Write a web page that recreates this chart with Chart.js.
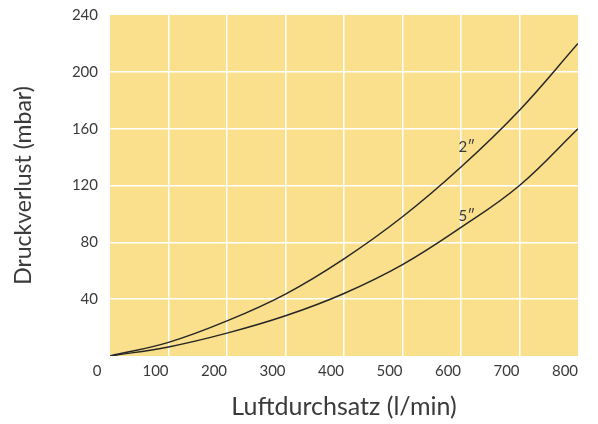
<!DOCTYPE html>
<html>
<head>
<meta charset="utf-8">
<script src="https://cdn.jsdelivr.net/npm/chart.js@4/dist/chart.umd.min.js"></script>
<style>
  html, body { margin: 0; padding: 0; background: #ffffff; }
  #wrap { width: 598px; height: 424px; }
</style>
</head>
<body>
<div id="wrap"><canvas id="chart" width="598" height="424"></canvas></div>
<script>
// Air flow (l/min) and pressure loss (mbar) for the two filter sizes
const flowRates = [0, 100, 200, 300, 400, 500, 600, 700, 800];
const loss2in = [0, 9.6, 24.7, 43.6, 68.4, 98, 133, 173, 220];
const loss5in = [0, 6.4, 16.1, 28.3, 44, 64.3, 90.5, 120, 160];
const seriesNames = ['2″', '5″'];
const xTitle = 'Luftdurchsatz (l/min)';
const yTitle = 'Druckverlust (mbar)';

const FONT = 'Lato, "Open Sans", sans-serif';
const TEXT = '#3a3a3a';
const PANEL = '#FAE08C';

const toPoints = (xs, ys) => xs.map((x, i) => ({ x: x, y: ys[i] }));

// Yellow panel behind the grid
const panelFill = {
  id: 'panelFill',
  beforeDraw(chart) {
    const { ctx, chartArea: a } = chart;
    ctx.save();
    ctx.fillStyle = PANEL;
    ctx.fillRect(a.left, a.top, a.right - a.left, a.bottom - a.top);
    ctx.restore();
  }
};

// Curve names written next to each line
const curveNames = {
  id: 'curveNames',
  afterDatasetsDraw(chart, args, opts) {
    const { ctx, scales: { x, y } } = chart;
    ctx.save();
    ctx.font = '15px ' + FONT;
    ctx.fillStyle = TEXT;
    ctx.textAlign = 'center';
    ctx.textBaseline = 'middle';
    (opts.at || []).forEach((p, i) => {
      const name = chart.data.datasets[i].label;
      ctx.fillText(name, x.getPixelForValue(p.x), y.getPixelForValue(p.y));
    });
    ctx.restore();
  }
};

const edgeClear = (ctx, last) =>
  (ctx.index === 0 || ctx.index === last) ? 'rgba(0,0,0,0)' : '#ffffff';

const curveStyle = {
  borderColor: '#262626',
  borderWidth: 1.5,
  pointRadius: 0,
  tension: 0.4,
  fill: false
};

new Chart(document.getElementById('chart'), {
  type: 'line',
  data: {
    datasets: [
      Object.assign({ label: seriesNames[0], data: toPoints(flowRates, loss2in) }, curveStyle),
      Object.assign({ label: seriesNames[1], data: toPoints(flowRates, loss5in) }, curveStyle)
    ]
  },
  options: {
    responsive: false,
    animation: false,
    layout: { padding: { top: 15, right: 20, left: 0, bottom: 0 } },
    plugins: {
      legend: { display: false },
      tooltip: { enabled: false },
      curveNames: { at: [{ x: 610, y: 147 }, { x: 610, y: 98.5 }] }
    },
    scales: {
      x: {
        type: 'linear',
        min: 0,
        max: 800,
        ticks: {
          stepSize: 100,
          padding: 6,
          labelOffset: -13,
          maxRotation: 0,
          autoSkip: false,
          color: TEXT,
          font: { family: FONT, size: 15 }
        },
        grid: {
          color: (c) => edgeClear(c, 8),
          lineWidth: 1.5,
          drawTicks: false
        },
        border: { display: false },
        title: {
          display: true,
          text: xTitle,
          color: TEXT,
          font: { family: FONT, size: 25 },
          padding: { top: 0, bottom: 2 }
        },
        afterFit(scale) {
          scale.height = 68;
          scale.paddingLeft = 0;
          scale.paddingRight = 0;
        }
      },
      y: {
        type: 'linear',
        min: 0,
        max: 240,
        ticks: {
          stepSize: 40,
          padding: 12,
          color: TEXT,
          font: { family: FONT, size: 15 },
          callback: (v) => (v === 0 ? '' : v)
        },
        grid: {
          color: (c) => edgeClear(c, 6),
          lineWidth: 1.5,
          drawTicks: false
        },
        border: { display: false },
        title: {
          display: true,
          text: yTitle,
          color: TEXT,
          font: { family: FONT, size: 23 },
          padding: { top: 10, bottom: 0 }
        },
        afterFit(scale) {
          scale.width = 110;
          scale.paddingTop = 0;
          scale.paddingBottom = 0;
        }
      }
    }
  },
  plugins: [panelFill, curveNames]
});
</script>
</body>
</html>
